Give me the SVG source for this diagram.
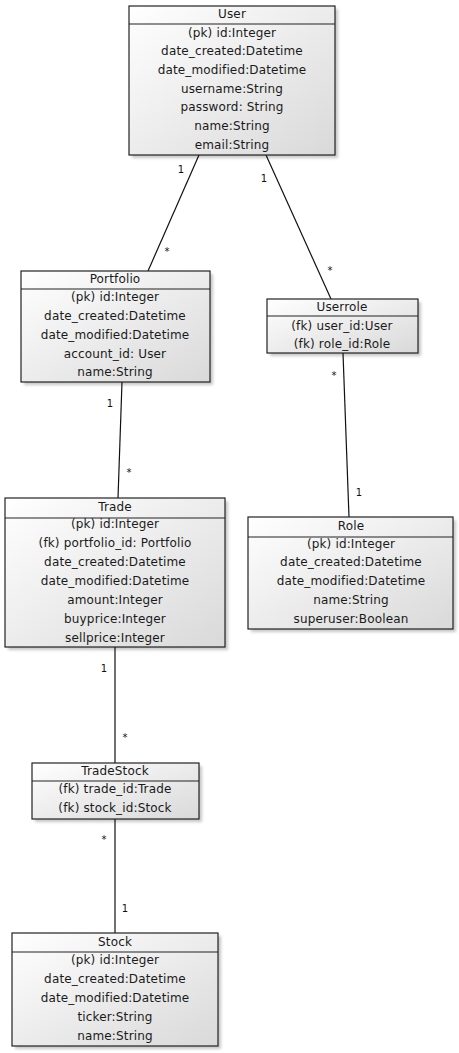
<svg xmlns="http://www.w3.org/2000/svg" width="459" height="1053" viewBox="0 0 459 1053">
  <style>
    .box { fill: url(#boxFill); stroke: #222; stroke-width: 1.2; }
    .sep { stroke: #222; stroke-width: 1.2; }
    .shadow { fill: #000; opacity: 0.22; filter: url(#soft); }
    .t { font-family: "DejaVu Sans", Verdana, sans-serif; font-size: 12px; letter-spacing: 0.15px; fill: #1a1a1a; text-anchor: middle; dominant-baseline: central; }
    .m { font-family: "DejaVu Sans", Verdana, sans-serif; font-size: 10px; fill: #111; text-anchor: middle; dominant-baseline: central; }
    .edge { stroke: #111; stroke-width: 1.2; fill: none; }
  </style>
  <defs>
    <linearGradient id="boxFill" x1="0" y1="0" x2="1" y2="1">
      <stop offset="0" stop-color="#ffffff"/>
      <stop offset="1" stop-color="#d9d9d9"/>
    </linearGradient>
    <filter id="soft" x="-10%" y="-10%" width="120%" height="120%">
      <feGaussianBlur stdDeviation="1.5"/>
    </filter>
  </defs>
  <rect width="459" height="1053" fill="#fff"/>

  <!-- relationships -->
  <g id="connectors">
    <line class="edge" x1="199" y1="155" x2="148" y2="271"/>
    <text class="m" x="181" y="169">1</text>
    <text class="m" x="167" y="251">*</text>

    <line class="edge" x1="266" y1="155" x2="331" y2="299"/>
    <text class="m" x="264" y="178">1</text>
    <text class="m" x="330" y="270">*</text>

    <line class="edge" x1="122" y1="382" x2="118" y2="498"/>
    <text class="m" x="110" y="403">1</text>
    <text class="m" x="129" y="472">*</text>

    <line class="edge" x1="343" y1="353" x2="349" y2="517"/>
    <text class="m" x="334" y="375">*</text>
    <text class="m" x="359" y="492">1</text>

    <line class="edge" x1="115" y1="647" x2="115" y2="763"/>
    <text class="m" x="104" y="668">1</text>
    <text class="m" x="125" y="737">*</text>

    <line class="edge" x1="115" y1="819" x2="115" y2="933"/>
    <text class="m" x="104" y="839">*</text>
    <text class="m" x="125" y="908">1</text>
  </g>

  <g id="user">
    <rect class="shadow" x="132" y="9" width="206" height="149"/>
    <rect class="box" x="129" y="6" width="206" height="149"/>
    <line class="sep" x1="129" y1="24" x2="335" y2="24"/>
    <text class="t" x="232" y="14">User</text>
    <text class="t" x="232" y="33">(pk) id:Integer</text>
    <text class="t" x="232" y="51">date_created:Datetime</text>
    <text class="t" x="232" y="70">date_modified:Datetime</text>
    <text class="t" x="232" y="89">username:String</text>
    <text class="t" x="232" y="107">password: String</text>
    <text class="t" x="232" y="126">name:String</text>
    <text class="t" x="232" y="145">email:String</text>
  </g>

  <g id="portfolio">
    <rect class="shadow" x="24" y="274" width="189" height="111"/>
    <rect class="box" x="21" y="271" width="189" height="111"/>
    <line class="sep" x1="21" y1="289" x2="210" y2="289"/>
    <text class="t" x="115" y="279">Portfolio</text>
    <text class="t" x="115" y="297">(pk) id:Integer</text>
    <text class="t" x="115" y="316">date_created:Datetime</text>
    <text class="t" x="115" y="335">date_modified:Datetime</text>
    <text class="t" x="115" y="354">account_id: User</text>
    <text class="t" x="115" y="372">name:String</text>
  </g>

  <g id="userrole">
    <rect class="shadow" x="270" y="302" width="151" height="54"/>
    <rect class="box" x="267" y="299" width="151" height="54"/>
    <line class="sep" x1="267" y1="316" x2="418" y2="316"/>
    <text class="t" x="342" y="307">Userrole</text>
    <text class="t" x="342" y="326">(fk) user_id:User</text>
    <text class="t" x="342" y="344">(fk) role_id:Role</text>
  </g>

  <g id="trade">
    <rect class="shadow" x="8" y="501" width="220" height="149"/>
    <rect class="box" x="5" y="498" width="220" height="149"/>
    <line class="sep" x1="5" y1="518" x2="225" y2="518"/>
    <text class="t" x="115" y="507">Trade</text>
    <text class="t" x="115" y="524">(pk) id:Integer</text>
    <text class="t" x="115" y="543">(fk) portfolio_id: Portfolio</text>
    <text class="t" x="115" y="562">date_created:Datetime</text>
    <text class="t" x="115" y="581">date_modified:Datetime</text>
    <text class="t" x="115" y="600">amount:Integer</text>
    <text class="t" x="115" y="619">buyprice:Integer</text>
    <text class="t" x="115" y="638">sellprice:Integer</text>
  </g>

  <g id="role">
    <rect class="shadow" x="251" y="520" width="205" height="112"/>
    <rect class="box" x="248" y="517" width="205" height="112"/>
    <line class="sep" x1="248" y1="537" x2="453" y2="537"/>
    <text class="t" x="351" y="526">Role</text>
    <text class="t" x="351" y="544">(pk) id:Integer</text>
    <text class="t" x="351" y="562">date_created:Datetime</text>
    <text class="t" x="351" y="581">date_modified:Datetime</text>
    <text class="t" x="351" y="600">name:String</text>
    <text class="t" x="351" y="619">superuser:Boolean</text>
  </g>

  <g id="tradestock">
    <rect class="shadow" x="35" y="766" width="167" height="56"/>
    <rect class="box" x="32" y="763" width="167" height="56"/>
    <line class="sep" x1="32" y1="781" x2="199" y2="781"/>
    <text class="t" x="115" y="771">TradeStock</text>
    <text class="t" x="115" y="789">(fk) trade_id:Trade</text>
    <text class="t" x="115" y="808">(fk) stock_id:Stock</text>
  </g>

  <g id="stock">
    <rect class="shadow" x="15" y="936" width="206" height="113"/>
    <rect class="box" x="12" y="933" width="206" height="113"/>
    <line class="sep" x1="12" y1="952" x2="218" y2="952"/>
    <text class="t" x="115" y="942">Stock</text>
    <text class="t" x="115" y="960">(pk) id:Integer</text>
    <text class="t" x="115" y="979">date_created:Datetime</text>
    <text class="t" x="115" y="998">date_modified:Datetime</text>
    <text class="t" x="115" y="1017">ticker:String</text>
    <text class="t" x="115" y="1036">name:String</text>
  </g>
</svg>
